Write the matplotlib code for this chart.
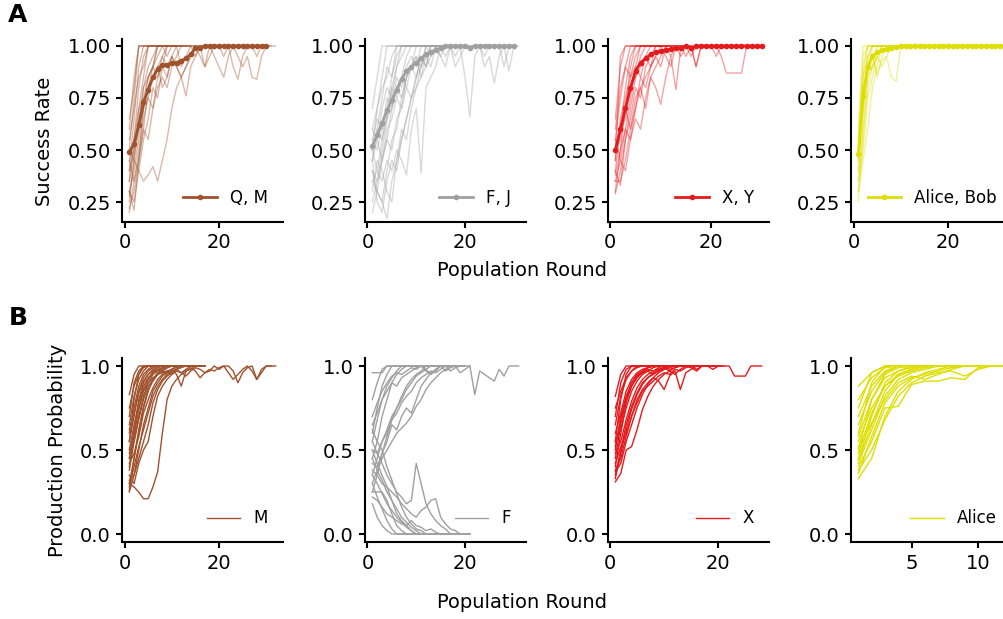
import numpy as np
import matplotlib

matplotlib.use("Agg")
import matplotlib.pyplot as plt
from matplotlib.ticker import MaxNLocator, MultipleLocator

plt.rcParams.update(
    {
        "font.family": "DejaVu Sans",
        "font.size": 14,
        "axes.linewidth": 1.5,
        "xtick.major.width": 1.5,
        "ytick.major.width": 1.5,
        "xtick.major.size": 4.5,
        "ytick.major.size": 4.5,
        "xtick.labelsize": 14,
        "ytick.labelsize": 14,
    }
)

# ---------------------------------------------------------------------------
# Row A: success rate per run (x = population round, starting at 1)
# ---------------------------------------------------------------------------
qm_mean = [0.49, 0.53, 0.62, 0.73, 0.79, 0.85, 0.89, 0.91, 0.91, 0.92,
           0.92, 0.93, 0.94, 0.96, 0.99, 0.99, 1.0, 1.0, 1.0, 1.0,
           1.0, 1.0, 1.0, 1.0, 1.0, 1.0, 1.0, 1.0, 1.0, 1.0]
qm_runs = [
    [0.50, 0.75, 1.0, 1.0, 1.0, 1.0, 1.0, 1.0, 1.0],
    [0.35, 0.55, 0.80, 0.95, 1.0, 1.0, 1.0, 1.0, 1.0, 1.0, 1.0],
    [0.25, 0.45, 0.70, 0.85, 1.0, 1.0, 1.0, 1.0, 1.0, 1.0, 1.0, 1.0],
    [0.60, 0.85, 1.0, 1.0, 1.0, 1.0, 1.0, 1.0],
    [0.40, 0.50, 0.65, 0.80, 0.90, 0.95, 1.0, 1.0, 1.0, 1.0, 1.0, 1.0, 1.0, 1.0],
    [0.30, 0.40, 0.55, 0.70, 0.75, 0.85, 0.90, 0.95, 1.0, 1.0, 1.0, 1.0, 1.0, 1.0, 1.0, 1.0],
    [0.45, 0.35, 0.45, 0.60, 0.55, 0.70, 0.80, 0.85, 0.80, 0.90, 0.95, 1.0, 1.0, 1.0, 1.0, 1.0, 1.0, 1.0],
    [0.50, 0.45, 0.40, 0.35, 0.38, 0.42, 0.35, 0.45, 0.55, 0.70, 0.80, 0.85, 0.90, 0.95, 1.0, 1.0, 1.0, 1.0, 1.0, 1.0],
    [0.20, 0.35, 0.50, 0.65, 0.75, 0.70, 0.85, 0.90, 1.0, 1.0, 1.0, 1.0, 1.0, 1.0],
    [0.22, 0.30, 0.45, 0.60, 0.80, 0.90, 1.0, 1.0, 1.0, 1.0, 1.0],
    [0.45, 0.55, 0.70, 0.75, 0.85, 0.90, 0.85, 0.95, 0.90, 0.95, 1.0, 0.90, 0.95, 1.0, 0.95, 1.0,
     0.90, 0.95, 1.0, 1.0, 0.95, 1.0, 0.90, 0.84, 0.95, 1.0, 1.0, 0.95, 1.0, 1.0, 1.0],
    [0.35, 0.50, 0.60, 0.70, 0.80, 0.85, 0.90, 0.80, 0.85, 0.95, 0.90, 0.85, 0.90, 0.95, 1.0, 0.95,
     0.90, 1.0, 0.95, 0.90, 0.85, 0.95, 1.0, 0.95, 0.90, 0.95, 0.85, 0.84, 0.95, 1.0, 1.0, 1.0],
    [0.55, 0.70, 0.85, 0.90, 1.0, 1.0, 1.0, 1.0, 1.0, 1.0, 1.0, 1.0, 1.0],
    [0.30, 0.25, 0.40, 0.55, 0.65, 0.80, 0.75, 0.90, 0.85, 0.95, 0.90, 0.85, 0.76, 0.90, 0.95, 1.0,
     1.0, 1.0, 1.0, 1.0, 1.0],
    [0.40, 0.65, 0.90, 1.0, 1.0, 1.0, 1.0, 1.0, 1.0, 1.0],
    [0.28, 0.45, 0.60, 0.80, 0.85, 0.90, 0.95, 1.0, 0.95, 1.0, 1.0, 1.0, 1.0, 1.0, 1.0, 1.0, 1.0],
    [0.30, 0.21, 0.45, 0.70, 0.85, 0.90, 1.0, 1.0, 1.0, 1.0, 1.0, 1.0],
    [0.65, 0.80, 1.0, 1.0, 1.0, 1.0, 1.0],
]

fj_mean = [0.52, 0.57, 0.63, 0.69, 0.74, 0.79, 0.84, 0.88, 0.90, 0.92,
           0.94, 0.96, 0.97, 0.98, 0.99, 1.0, 1.0, 1.0, 1.0, 1.0,
           0.99, 1.0, 1.0, 1.0, 1.0, 1.0, 1.0, 1.0, 1.0, 1.0]
fj_runs = [
    [0.50, 0.40, 0.55, 0.70, 0.85, 0.95, 1.0, 1.0, 1.0, 1.0, 1.0, 1.0, 1.0, 1.0, 1.0],
    [0.35, 0.30, 0.25, 0.40, 0.55, 0.60, 0.75, 0.85, 0.90, 1.0, 1.0, 1.0, 1.0, 1.0, 1.0, 1.0, 1.0],
    [0.60, 0.70, 0.80, 0.85, 0.95, 1.0, 1.0, 1.0, 1.0, 1.0, 1.0, 1.0],
    [0.45, 0.25, 0.20, 0.35, 0.45, 0.40, 0.55, 0.65, 0.75, 0.80, 0.90, 0.95, 1.0, 1.0, 1.0, 1.0, 1.0, 1.0, 1.0],
    [0.55, 0.65, 0.60, 0.75, 0.70, 0.85, 0.80, 0.90, 0.95, 0.90, 1.0, 1.0, 1.0, 1.0, 1.0, 1.0, 1.0, 1.0, 1.0, 1.0],
    [0.40, 0.35, 0.45, 0.55, 0.50, 0.65, 0.70, 0.80, 0.75, 0.85, 0.95, 0.90, 1.0, 1.0, 1.0, 1.0, 1.0, 1.0,
     1.0, 1.0, 1.0, 1.0],
    [0.70, 0.85, 1.0, 1.0, 1.0, 1.0, 1.0, 1.0, 1.0, 1.0],
    [0.30, 0.45, 0.40, 0.30, 0.25, 0.45, 0.60, 0.55, 0.70, 0.80, 0.85, 0.90, 1.0, 1.0, 1.0, 1.0, 1.0, 1.0, 1.0],
    [0.50, 0.60, 0.75, 0.90, 0.85, 1.0, 1.0, 1.0, 1.0, 1.0, 1.0, 1.0, 1.0],
    [0.55, 0.50, 0.60, 0.65, 0.70, 0.80, 0.75, 0.85, 0.90, 0.85, 0.95, 0.90, 0.95, 1.0, 0.95, 0.90,
     1.0, 0.95, 1.0, 0.85, 0.66, 0.95, 1.0, 0.90, 0.95, 0.82, 0.95, 1.0, 0.88, 1.0, 1.0],
    [0.45, 0.55, 0.45, 0.60, 0.65, 0.75, 0.70, 0.85, 0.90, 0.95, 0.90, 1.0, 0.95, 1.0, 1.0, 0.95,
     1.0, 1.0, 1.0, 1.0, 1.0, 1.0, 1.0, 1.0],
    [0.40, 0.30, 0.25, 0.17, 0.35, 0.45, 0.55, 0.65, 0.75, 0.85, 0.90, 1.0, 1.0, 1.0, 1.0, 1.0],
    [0.25, 0.35, 0.50, 0.65, 0.80, 0.90, 1.0, 1.0, 1.0, 1.0, 1.0, 1.0, 1.0],
    [0.60, 0.55, 0.70, 0.80, 0.75, 0.90, 0.95, 1.0, 1.0, 1.0, 1.0, 1.0, 1.0, 1.0],
    [0.35, 0.40, 0.35, 0.45, 0.40, 0.50, 0.45, 0.38, 0.60, 0.70, 0.39, 0.80, 0.85, 0.90, 1.0, 1.0,
     1.0, 1.0, 1.0, 1.0],
    [0.50, 0.70, 0.85, 1.0, 1.0, 1.0, 1.0, 1.0, 1.0, 1.0, 1.0],
    [0.20, 0.30, 0.45, 0.55, 0.70, 0.80, 0.85, 0.95, 1.0, 1.0, 1.0, 1.0, 1.0, 1.0, 1.0],
    [0.45, 0.60, 0.55, 0.65, 0.80, 0.75, 0.85, 0.80, 0.90, 0.95, 0.85, 0.95, 0.90, 1.0, 0.95, 1.0,
     1.0, 0.90, 0.95, 1.0, 1.0, 1.0, 1.0, 0.95, 1.0, 1.0, 1.0, 0.90, 1.0, 1.0],
]

xy_mean = [0.50, 0.60, 0.70, 0.80, 0.88, 0.92, 0.94, 0.96, 0.97, 0.975,
           0.98, 0.985, 0.99, 0.99, 1.0, 0.99, 1.0, 1.0, 1.0, 1.0,
           1.0, 1.0, 1.0, 1.0, 1.0, 1.0, 1.0, 1.0, 1.0, 1.0]
xy_runs = [
    [0.45, 0.95, 1.0, 1.0, 1.0, 1.0, 1.0, 1.0],
    [0.30, 0.50, 0.70, 0.90, 1.0, 1.0, 1.0, 1.0, 1.0, 1.0],
    [0.55, 0.75, 0.90, 1.0, 1.0, 1.0, 1.0, 1.0, 1.0, 1.0, 1.0],
    [0.40, 0.33, 0.55, 0.70, 0.85, 0.95, 1.0, 1.0, 1.0, 1.0, 1.0, 1.0],
    [0.50, 0.60, 0.65, 0.80, 0.85, 0.90, 0.95, 1.0, 1.0, 1.0, 1.0, 1.0, 1.0, 1.0],
    [0.35, 0.45, 0.40, 0.55, 0.65, 0.60, 0.75, 0.85, 0.90, 0.95, 1.0, 1.0, 1.0, 1.0, 1.0, 1.0],
    [0.60, 0.80, 0.90, 0.85, 0.95, 1.0, 1.0, 1.0, 1.0, 1.0, 1.0, 1.0, 1.0],
    [0.45, 0.65, 0.75, 0.85, 0.90, 0.85, 0.95, 0.90, 0.95, 1.0, 0.95, 0.90, 1.0, 0.95, 1.0,
     1.0, 0.90, 1.0, 1.0, 1.0, 1.0, 0.95, 0.87, 0.87, 0.87, 0.87, 1.0, 1.0, 1.0, 1.0],
    [0.29, 0.40, 0.55, 0.65, 0.80, 0.75, 0.90, 0.95, 1.0, 1.0, 1.0, 1.0, 1.0, 1.0, 1.0],
    [0.50, 0.55, 0.70, 0.60, 0.75, 0.80, 0.70, 0.85, 0.80, 0.72, 0.85, 0.95, 0.79, 1.0, 1.0, 0.95,
     1.0, 1.0, 1.0, 1.0, 1.0],
    [0.40, 0.60, 0.80, 0.95, 1.0, 1.0, 1.0, 1.0, 1.0, 1.0],
    [0.35, 0.35, 0.45, 0.60, 0.70, 0.80, 0.85, 0.90, 1.0, 1.0, 1.0, 1.0, 1.0, 1.0, 1.0, 1.0, 1.0],
    [0.65, 0.90, 1.0, 1.0, 1.0, 1.0, 1.0],
    [0.55, 0.45, 0.60, 0.75, 0.90, 1.0, 1.0, 1.0, 1.0, 1.0, 1.0, 1.0],
    [0.38, 0.50, 0.60, 0.55, 0.70, 0.85, 0.80, 0.90, 0.95, 0.90, 1.0, 0.95, 1.0, 1.0, 0.95, 1.0,
     0.90, 1.0, 1.0, 1.0, 0.95, 1.0, 1.0, 1.0],
]

ab_mean = [0.48, 0.76, 0.90, 0.95, 0.97, 0.98, 0.985, 0.99, 0.995, 1.0,
           1.0, 1.0, 1.0, 1.0, 1.0, 1.0, 1.0, 1.0, 1.0, 1.0,
           1.0, 1.0, 1.0, 1.0, 1.0, 1.0, 1.0, 1.0, 1.0, 1.0,
           1.0, 1.0]
ab_runs = [
    [0.40, 0.85, 1.0, 1.0, 1.0, 1.0, 1.0],
    [0.50, 0.90, 1.0, 1.0, 1.0],
    [0.30, 0.65, 0.95, 1.0, 1.0, 1.0, 1.0, 1.0],
    [0.55, 0.80, 0.95, 0.90, 1.0, 1.0, 1.0, 1.0, 1.0],
    [0.35, 0.60, 0.80, 0.90, 0.95, 1.0, 1.0, 1.0, 1.0, 1.0],
    [0.45, 0.75, 0.90, 0.95, 0.85, 0.95, 1.0, 1.0, 1.0, 1.0],
    [0.60, 1.0, 1.0, 1.0, 1.0, 1.0],
    [0.25, 0.55, 0.85, 1.0, 1.0, 1.0, 1.0],
    [0.40, 0.70, 0.85, 0.90, 0.95, 0.90, 0.95, 0.85, 0.83, 1.0, 1.0],
    [0.50, 0.70, 0.90, 0.95, 0.87, 0.93, 0.95, 1.0, 1.0, 1.0],
    [0.45, 0.95, 1.0, 1.0, 1.0, 1.0],
    [0.35, 0.50, 0.75, 0.85, 0.95, 1.0, 1.0, 1.0, 1.0],
    [0.55, 0.85, 0.95, 1.0, 1.0, 1.0, 1.0, 1.0],
    [0.30, 0.45, 0.60, 0.80, 0.90, 1.0, 1.0, 1.0, 1.0],
]

# ---------------------------------------------------------------------------
# Row B: production probability per run
# ---------------------------------------------------------------------------
m_runs = [
    [0.55, 0.80, 0.95, 1.0, 1.0, 1.0, 1.0, 1.0, 1.0, 1.0],
    [0.40, 0.60, 0.80, 0.90, 0.95, 0.98, 1.0, 1.0, 1.0, 1.0, 1.0, 1.0],
    [0.30, 0.45, 0.60, 0.75, 0.85, 0.92, 0.96, 0.98, 1.0, 1.0, 1.0, 1.0, 1.0, 1.0],
    [0.70, 0.90, 0.97, 1.0, 1.0, 1.0, 1.0, 1.0, 1.0],
    [0.25, 0.35, 0.50, 0.65, 0.75, 0.85, 0.90, 0.94, 0.96, 0.98, 1.0, 1.0, 1.0, 1.0, 1.0, 1.0],
    [0.45, 0.55, 0.70, 0.82, 0.90, 0.95, 0.97, 0.99, 1.0, 1.0, 1.0, 1.0, 1.0],
    [0.30, 0.28, 0.25, 0.21, 0.21, 0.28, 0.37, 0.60, 0.80, 0.88, 0.92, 0.95, 0.97, 0.98, 1.0, 1.0, 1.0],
    [0.35, 0.30, 0.42, 0.50, 0.55, 0.70, 0.82, 0.88, 0.92, 0.95, 0.97, 0.96, 0.98, 1.0, 1.0, 1.0, 1.0],
    [0.60, 0.75, 0.88, 0.95, 0.98, 1.0, 1.0, 1.0, 1.0, 1.0, 1.0],
    [0.50, 0.65, 0.78, 0.88, 0.93, 0.96, 0.98, 0.99, 1.0, 1.0, 1.0, 1.0, 1.0, 1.0, 1.0],
    [0.45, 0.62, 0.75, 0.85, 0.90, 0.93, 0.95, 0.96, 0.97, 0.95, 0.98, 0.96, 0.94, 0.97, 0.99, 0.98,
     0.96, 0.97, 1.0, 0.98, 1.0, 1.0, 0.97, 0.90, 0.96, 0.99, 1.0, 0.92, 0.96, 1.0, 1.0, 1.0],
    [0.38, 0.55, 0.68, 0.80, 0.88, 0.92, 0.95, 0.97, 0.96, 0.98, 0.95, 0.88, 0.97, 0.99, 0.97, 0.93,
     0.96, 0.98, 0.97, 0.99, 1.0, 0.96, 0.92, 0.95, 0.98, 1.0, 0.97, 0.92, 0.98, 1.0, 1.0],
    [0.83, 0.95, 1.0, 1.0, 1.0, 1.0, 1.0, 1.0],
    [0.28, 0.40, 0.52, 0.62, 0.72, 0.82, 0.88, 0.92, 0.95, 0.97, 0.98, 1.0, 1.0, 1.0, 1.0, 1.0, 1.0],
    [0.65, 0.82, 0.92, 0.97, 1.0, 1.0, 1.0, 1.0, 1.0, 1.0, 1.0, 1.0],
    [0.42, 0.48, 0.58, 0.72, 0.80, 0.87, 0.92, 0.95, 0.97, 0.98, 0.99, 1.0, 1.0, 1.0, 1.0],
    [0.55, 0.70, 0.85, 0.93, 0.97, 0.99, 1.0, 1.0, 1.0, 1.0, 1.0, 1.0, 1.0, 1.0],
    [0.32, 0.35, 0.45, 0.55, 0.65, 0.78, 0.86, 0.91, 0.94, 0.96, 0.98, 0.99, 1.0, 1.0, 1.0, 1.0],
    [0.75, 0.88, 0.95, 0.99, 1.0, 1.0, 1.0, 1.0, 1.0, 1.0],
    [0.48, 0.58, 0.74, 0.86, 0.92, 0.96, 0.98, 0.97, 0.99, 1.0, 1.0, 1.0, 1.0, 1.0, 1.0, 1.0, 1.0],
    [0.26, 0.45, 0.62, 0.76, 0.86, 0.91, 0.95, 0.97, 0.99, 1.0, 1.0, 1.0, 1.0],
    [0.62, 0.72, 0.84, 0.91, 0.95, 0.97, 0.99, 1.0, 1.0, 1.0, 1.0, 1.0, 1.0, 1.0, 1.0, 1.0],
]

f_runs = [
    [0.60, 0.75, 0.88, 0.95, 1.0, 1.0, 1.0, 1.0, 1.0, 1.0, 1.0, 1.0, 1.0, 1.0],
    [0.45, 0.55, 0.70, 0.80, 0.90, 0.95, 0.98, 1.0, 1.0, 1.0, 1.0, 1.0, 1.0, 1.0, 1.0, 1.0],
    [0.80, 0.90, 0.98, 1.0, 1.0, 1.0, 1.0, 1.0, 1.0, 1.0, 1.0, 1.0],
    [0.35, 0.45, 0.55, 0.62, 0.70, 0.75, 0.82, 0.88, 0.92, 0.95, 0.97, 1.0, 1.0, 1.0, 1.0, 1.0, 1.0, 1.0],
    [0.50, 0.48, 0.55, 0.60, 0.68, 0.72, 0.78, 0.82, 0.85, 0.90, 0.93, 0.95, 0.97, 0.96, 0.98, 1.0,
     1.0, 1.0, 1.0, 1.0],
    [0.70, 0.78, 0.85, 0.90, 0.94, 0.96, 0.95, 0.97, 0.99, 0.98, 1.0, 0.97, 0.95, 0.98, 1.0, 0.97,
     0.99, 1.0, 0.96, 0.98, 1.0, 0.83, 0.97, 0.95, 0.93, 0.91, 0.98, 0.94, 1.0, 1.0, 1.0],
    [0.25, 0.35, 0.48, 0.58, 0.68, 0.75, 0.80, 0.86, 0.90, 0.94, 0.96, 0.98, 1.0, 1.0, 1.0, 1.0, 1.0],
    [0.55, 0.68, 0.80, 0.88, 0.93, 0.97, 1.0, 1.0, 1.0, 1.0, 1.0, 1.0, 1.0, 1.0, 1.0, 1.0, 1.0, 1.0],
    [0.42, 0.40, 0.48, 0.55, 0.65, 0.62, 0.70, 0.75, 0.72, 0.80, 0.88, 0.92, 0.96, 0.98, 1.0, 1.0,
     1.0, 1.0, 1.0],
    [0.96, 0.96, 0.96, 1.0, 1.0, 1.0, 1.0, 1.0, 1.0, 1.0, 1.0, 1.0, 1.0, 1.0, 1.0],
    [0.65, 0.72, 0.80, 0.85, 0.90, 0.88, 0.93, 0.95, 0.97, 0.99, 1.0, 0.98, 0.95, 0.97, 1.0, 1.0,
     0.97, 0.99, 1.0, 1.0, 1.0],
    [0.30, 0.38, 0.45, 0.50, 0.55, 0.60, 0.63, 0.66, 0.70, 0.76, 0.80, 0.86, 0.90, 0.93, 0.96, 0.98,
     1.0, 1.0, 1.0, 1.0],
    [0.30, 0.22, 0.15, 0.08, 0.03, 0.0, 0.0, 0.0, 0.0, 0.0, 0.0, 0.0, 0.0, 0.0, 0.0, 0.0, 0.0, 0.0,
     0.0, 0.0, 0.0],
    [0.45, 0.38, 0.32, 0.25, 0.20, 0.15, 0.10, 0.07, 0.04, 0.02, 0.0, 0.0, 0.0, 0.0, 0.0, 0.0],
    [0.25, 0.25, 0.25, 0.20, 0.12, 0.05, 0.02, 0.0, 0.0, 0.0, 0.0, 0.0, 0.0],
    [0.55, 0.48, 0.42, 0.35, 0.30, 0.25, 0.22, 0.18, 0.20, 0.42, 0.30, 0.18, 0.12, 0.08, 0.05, 0.03,
     0.0, 0.0, 0.0, 0.0],
    [0.18, 0.10, 0.05, 0.02, 0.0, 0.0, 0.0, 0.0, 0.0, 0.0],
    [0.38, 0.35, 0.30, 0.28, 0.25, 0.22, 0.18, 0.15, 0.12, 0.10, 0.14, 0.16, 0.20, 0.21, 0.10, 0.06,
     0.03, 0.02, 0.0, 0.0, 0.0],
    [0.50, 0.42, 0.35, 0.28, 0.20, 0.12, 0.08, 0.05, 0.02, 0.0, 0.0, 0.0, 0.0, 0.0, 0.0, 0.0, 0.0, 0.0],
    [0.62, 0.55, 0.50, 0.40, 0.32, 0.24, 0.16, 0.10, 0.06, 0.03, 0.02, 0.0, 0.0, 0.0, 0.0],
    [0.22, 0.20, 0.16, 0.12, 0.10, 0.08, 0.06, 0.05, 0.08, 0.05, 0.04, 0.02, 0.03, 0.01, 0.0, 0.0,
     0.0, 0.0, 0.0, 0.0, 0.0],
    [0.35, 0.30, 0.24, 0.18, 0.14, 0.10, 0.07, 0.04, 0.02, 0.0, 0.0],
]

x_runs = [
    [0.55, 0.80, 0.95, 1.0, 1.0, 1.0, 1.0, 1.0, 1.0, 1.0],
    [0.40, 0.60, 0.78, 0.88, 0.94, 0.97, 0.99, 1.0, 1.0, 1.0, 1.0, 1.0],
    [0.31, 0.36, 0.50, 0.52, 0.62, 0.74, 0.82, 0.88, 0.92, 0.95, 0.97, 0.99, 1.0, 1.0, 1.0, 1.0],
    [0.70, 0.90, 0.98, 1.0, 1.0, 1.0, 1.0, 1.0],
    [0.45, 0.65, 0.80, 0.90, 0.95, 0.97, 0.99, 1.0, 1.0, 1.0, 1.0, 1.0, 1.0, 1.0],
    [0.35, 0.50, 0.65, 0.76, 0.84, 0.90, 0.93, 0.95, 0.97, 0.98, 0.99, 1.0, 1.0, 1.0, 1.0, 1.0, 1.0],
    [0.50, 0.70, 0.82, 0.90, 0.94, 0.96, 0.97, 0.95, 0.98, 0.99, 0.97, 0.95, 0.98, 1.0, 0.99, 0.97,
     1.0, 1.0, 0.98, 1.0, 1.0, 1.0, 0.94, 0.94, 0.94, 1.0, 1.0, 1.0],
    [0.60, 0.72, 0.85, 0.92, 0.96, 0.98, 0.99, 1.0, 1.0, 1.0, 1.0, 1.0, 1.0],
    [0.38, 0.45, 0.58, 0.70, 0.80, 0.86, 0.90, 0.93, 0.91, 0.86, 0.94, 0.97, 0.86, 0.96, 0.98, 1.0,
     1.0, 1.0, 1.0, 1.0],
    [0.82, 0.95, 1.0, 1.0, 1.0, 1.0, 1.0, 1.0, 1.0],
    [0.48, 0.55, 0.68, 0.79, 0.87, 0.92, 0.95, 0.97, 0.98, 0.99, 1.0, 1.0, 1.0, 1.0, 1.0],
    [0.33, 0.48, 0.62, 0.74, 0.83, 0.89, 0.93, 0.96, 0.97, 0.99, 1.0, 1.0, 1.0, 1.0, 1.0, 1.0, 1.0, 1.0],
    [0.65, 0.82, 0.92, 0.97, 0.99, 1.0, 1.0, 1.0, 1.0, 1.0, 1.0],
    [0.42, 0.52, 0.60, 0.70, 0.78, 0.85, 0.88, 0.91, 0.94, 0.96, 0.95, 0.98, 0.97, 0.99, 1.0, 0.98,
     1.0, 1.0, 1.0, 1.0],
    [0.55, 0.62, 0.75, 0.85, 0.91, 0.95, 0.97, 0.99, 1.0, 1.0, 1.0, 1.0, 1.0, 1.0, 1.0, 1.0],
    [0.75, 0.85, 0.93, 0.97, 1.0, 1.0, 1.0, 1.0, 1.0, 1.0, 1.0, 1.0],
    [0.37, 0.42, 0.55, 0.65, 0.75, 0.83, 0.89, 0.93, 0.96, 0.98, 1.0, 1.0, 1.0, 1.0],
    [0.52, 0.68, 0.80, 0.88, 0.93, 0.96, 0.98, 0.97, 0.99, 1.0, 0.98, 0.99, 1.0, 1.0, 1.0, 1.0, 1.0,
     1.0, 1.0, 1.0, 1.0],
]

alice_runs = [
    [0.60, 0.90, 1.0, 1.0, 1.0, 1.0, 1.0, 1.0],
    [0.45, 0.70, 0.90, 0.97, 1.0, 1.0, 1.0, 1.0, 1.0],
    [0.33, 0.45, 0.70, 0.85, 0.92, 0.96, 0.98, 1.0, 1.0, 1.0, 1.0, 1.0],
    [0.75, 0.96, 1.0, 1.0, 1.0, 1.0],
    [0.50, 0.80, 0.95, 0.99, 1.0, 1.0, 1.0, 1.0, 1.0, 1.0],
    [0.40, 0.55, 0.75, 0.76, 0.89, 0.91, 0.91, 0.93, 0.92, 0.99, 1.0, 1.0],
    [0.55, 0.75, 0.88, 0.95, 0.98, 1.0, 1.0, 1.0, 1.0, 1.0, 1.0],
    [0.88, 0.96, 1.0, 1.0, 1.0, 1.0, 1.0],
    [0.42, 0.62, 0.82, 0.92, 0.96, 0.98, 1.0, 1.0, 1.0, 1.0, 1.0, 1.0],
    [0.65, 0.85, 0.96, 1.0, 1.0, 1.0, 1.0, 1.0, 1.0],
    [0.38, 0.50, 0.68, 0.82, 0.90, 0.94, 0.96, 0.97, 0.94, 0.98, 1.0, 1.0],
    [0.70, 0.88, 0.97, 1.0, 1.0, 1.0, 1.0],
    [0.48, 0.72, 0.88, 0.94, 0.97, 0.99, 1.0, 1.0, 1.0, 1.0, 1.0],
    [0.58, 0.80, 0.93, 0.97, 0.99, 1.0, 1.0, 1.0, 1.0, 1.0],
    [0.36, 0.58, 0.78, 0.88, 0.93, 0.95, 0.97, 0.99, 1.0, 1.0, 1.0, 1.0],
    [0.80, 0.93, 0.99, 1.0, 1.0, 1.0, 1.0, 1.0, 1.0, 1.0, 1.0, 1.0],
    [0.52, 0.66, 0.80, 0.90, 0.94, 0.92, 0.95, 0.98, 1.0, 1.0, 1.0, 1.0],
    [0.44, 0.65, 0.85, 0.95, 0.98, 1.0, 1.0, 1.0, 1.0, 1.0, 1.0, 1.0],
]

pair_labels = ["Q, M", "F, J", "X, Y", "Alice, Bob"]
word_labels = ["M", "F", "X", "Alice"]
colors = ["#a0522d", "#a0a0a0", "#e41a1c", "#dede00"]

top_means = [qm_mean, fj_mean, xy_mean, ab_mean]
top_runs = [qm_runs, fj_runs, xy_runs, ab_runs]
bottom_runs = [m_runs, f_runs, x_runs, alice_runs]

# ---------------------------------------------------------------------------
# Figure
# ---------------------------------------------------------------------------
W, H = 1004, 619
fig = plt.figure(figsize=(W / 100, H / 100), dpi=100)

lefts = [122, 365, 608, 851]
ax_w = 161
rowA = (38.7, 221.8)
rowB = (357.6, 542.4)


def make_ax(left, top, bottom):
    return fig.add_axes([left / W, 1 - bottom / H, ax_w / W, (bottom - top) / H])


def style(ax, nbins=2):
    ax.spines["top"].set_visible(False)
    ax.spines["right"].set_visible(False)
    ax.xaxis.set_major_locator(MaxNLocator(nbins, steps=[1, 2, 2.5, 5, 10]))


for i in range(4):
    ax = make_ax(lefts[i], *rowA)
    for run in top_runs[i]:
        ax.plot(np.arange(1, len(run) + 1), run, color=colors[i], lw=1.0, alpha=0.4)
    mean = top_means[i]
    ax.plot(np.arange(1, len(mean) + 1), mean, color=colors[i], lw=2.0,
            marker="o", markersize=3, label=pair_labels[i])
    ax.set_ylim(0.155, 1.035)
    ax.yaxis.set_major_locator(MultipleLocator(0.25))
    ax.yaxis.set_major_formatter(plt.FormatStrFormatter("%.2f"))
    style(ax)
    ax.legend(loc="lower right", frameon=False, fontsize=12, numpoints=1)
    if i == 0:
        ax.set_ylabel("Success Rate")
        ax.yaxis.set_label_coords(-0.42, 0.44)

    ax = make_ax(lefts[i], *rowB)
    for k, run in enumerate(bottom_runs[i]):
        ax.plot(np.arange(1, len(run) + 1), run, color=colors[i], lw=1.0,
                label=word_labels[i] if k == 0 else None)
    ax.set_ylim(-0.05, 1.05)
    ax.yaxis.set_major_locator(MultipleLocator(0.5))
    style(ax, nbins=3 if i == 3 else 2)
    ax.legend(loc="lower right", frameon=False, fontsize=12)
    if i == 0:
        ax.set_ylabel("Production Probability")
        ax.yaxis.set_label_coords(-0.34, 0.5)

fig.text(522 / W, 1 - 271 / H, "Population Round", ha="center", va="center", fontsize=14)
fig.text(522 / W, 1 - 602 / H, "Population Round", ha="center", va="center", fontsize=14)
fig.text(18 / W, 1 - 15 / H, "A", ha="center", va="center", fontsize=18, fontweight="bold")
fig.text(18 / W, 1 - 318 / H, "B", ha="center", va="center", fontsize=18, fontweight="bold")

fig.savefig("out.png", dpi=100)
